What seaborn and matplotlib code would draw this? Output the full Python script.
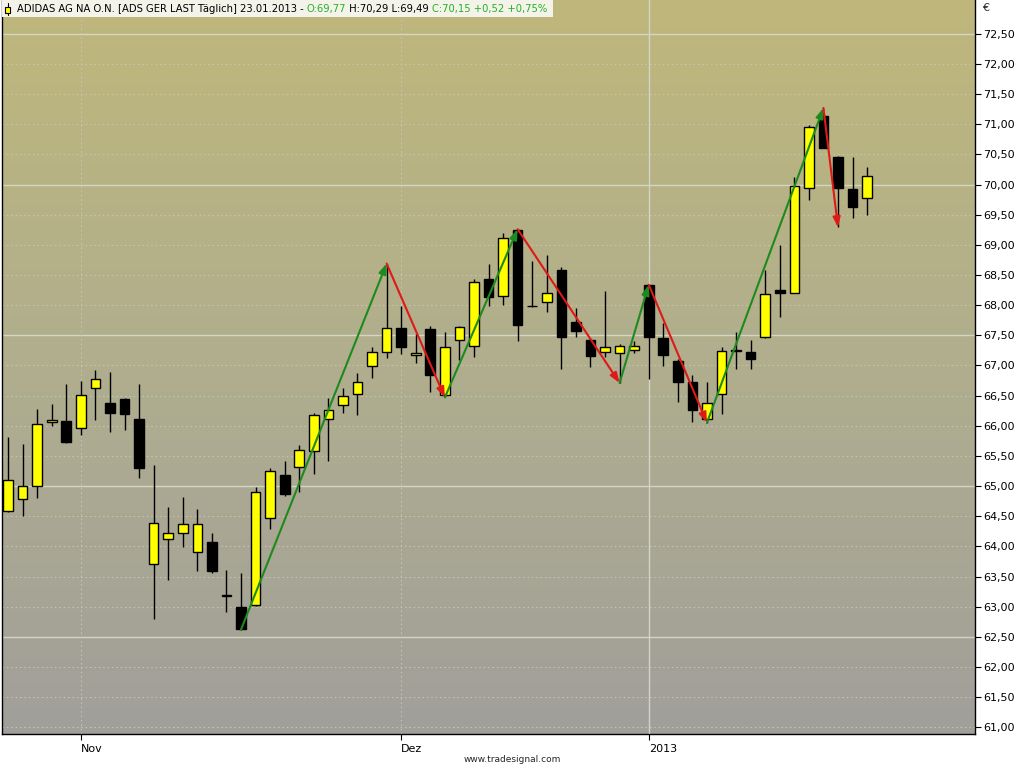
import matplotlib
matplotlib.use("Agg")
import matplotlib.pyplot as plt
import matplotlib.patches as mpatches
from matplotlib.lines import Line2D
from matplotlib.text import Annotation
from matplotlib.colors import LinearSegmentedColormap
import numpy as np
import pandas as pd
import seaborn as sns

# --- daily OHLC, ADIDAS AG (ADS GER LAST) ---
dates = [
    "2012-10-25", "2012-10-26", "2012-10-29", "2012-10-30", "2012-10-31",
    "2012-11-01", "2012-11-02", "2012-11-05", "2012-11-06", "2012-11-07",
    "2012-11-08", "2012-11-09", "2012-11-12", "2012-11-13", "2012-11-14",
    "2012-11-15", "2012-11-16", "2012-11-19", "2012-11-20", "2012-11-21",
    "2012-11-22", "2012-11-23", "2012-11-26", "2012-11-27", "2012-11-28",
    "2012-11-29", "2012-11-30", "2012-12-03", "2012-12-04", "2012-12-05",
    "2012-12-06", "2012-12-07", "2012-12-10", "2012-12-11", "2012-12-12",
    "2012-12-13", "2012-12-14", "2012-12-17", "2012-12-18", "2012-12-19",
    "2012-12-20", "2012-12-21", "2012-12-27", "2012-12-28", "2013-01-02",
    "2013-01-03", "2013-01-04", "2013-01-07", "2013-01-08", "2013-01-09",
    "2013-01-10", "2013-01-11", "2013-01-14", "2013-01-15", "2013-01-16",
    "2013-01-17", "2013-01-18", "2013-01-21", "2013-01-22", "2013-01-23",
]
opens = [64.59, 64.78, 65.00, 66.07, 66.08, 65.96, 66.62, 66.37, 66.44, 66.11,
         63.71, 64.12, 64.22, 63.91, 64.07, 63.17, 62.99, 63.03, 64.47, 65.18,
         65.31, 65.58, 66.11, 66.34, 66.52, 66.99, 67.22, 67.62, 67.17, 67.60,
         66.51, 67.42, 67.32, 68.44, 68.15, 69.24, 67.99, 68.05, 68.59, 67.72,
         67.42, 67.22, 67.20, 67.25, 68.33, 67.45, 67.07, 66.72, 66.11, 66.52,
         67.25, 67.22, 67.47, 68.25, 68.21, 69.95, 71.14, 70.46, 69.92, 69.77]
highs = [65.81, 65.70, 66.28, 66.36, 66.70, 66.75, 66.92, 66.90, 66.46, 66.69,
         65.35, 64.65, 64.82, 64.62, 64.22, 63.61, 63.56, 64.98, 65.30, 65.41,
         65.68, 66.21, 66.46, 66.62, 66.87, 67.30, 68.69, 67.98, 67.53, 67.65,
         67.55, 67.65, 68.43, 68.69, 69.19, 69.26, 68.73, 68.84, 68.63, 67.95,
         67.45, 68.24, 67.35, 67.40, 68.34, 67.70, 67.10, 66.85, 66.72, 67.30,
         67.55, 67.43, 68.58, 68.99, 70.12, 70.99, 71.27, 70.48, 70.45, 70.29]
lows = [64.57, 64.50, 64.80, 65.99, 65.72, 65.84, 66.09, 65.89, 65.93, 65.13,
        62.80, 63.44, 63.99, 63.60, 63.56, 62.91, 62.62, 63.02, 64.29, 64.83,
        64.90, 65.20, 65.41, 66.21, 66.18, 66.79, 67.12, 67.19, 67.04, 66.56,
        66.47, 67.09, 67.14, 67.98, 68.01, 67.40, 67.97, 67.88, 66.94, 67.48,
        66.97, 67.14, 66.71, 67.20, 66.77, 66.99, 66.39, 66.06, 66.05, 66.19,
        66.95, 66.95, 67.46, 67.80, 68.20, 69.75, 70.60, 69.29, 69.44, 69.49]
closes = [65.10, 65.00, 66.03, 66.10, 65.73, 66.51, 66.77, 66.21, 66.19, 65.30,
          64.39, 64.22, 64.37, 64.37, 63.59, 63.20, 62.63, 64.90, 65.25, 64.87,
          65.60, 66.18, 66.27, 66.49, 66.72, 67.22, 67.62, 67.30, 67.20, 66.84,
          67.30, 67.63, 68.38, 68.13, 69.12, 67.67, 67.98, 68.21, 67.48, 67.57,
          67.15, 67.30, 67.33, 67.33, 67.47, 67.17, 66.72, 66.27, 66.37, 67.24,
          67.24, 67.10, 68.18, 68.20, 69.97, 70.96, 70.61, 69.95, 69.63, 70.15]

# zigzag swing points: candle index and whether the high or the low is used
pivot_idx = [16, 26, 30, 35, 42, 44, 48, 56, 57]
pivot_kind = ["L", "H", "L", "H", "L", "H", "L", "H", "L"]

month_names = {1: "Jan", 2: "Feb", 3: "Mrz", 4: "Apr", 5: "Mai", 6: "Jun",
               7: "Jul", 8: "Aug", 9: "Sep", 10: "Okt", 11: "Nov", 12: "Dez"}

df = pd.DataFrame({"date": pd.to_datetime(dates), "open": opens, "high": highs,
                   "low": lows, "close": closes})
df["x"] = np.arange(len(df))
df["up"] = df["close"] >= df["open"]

UP = "#ffff00"
DOWN = "#000000"
GREEN = "#1d8a1d"
RED = "#e01818"
TXT_GREEN = "#27b027"

sns.set_style("white")
plt.rcParams["font.family"] = ["DejaVu Sans"]

W, H = 1024, 768
fig = plt.figure(figsize=(W / 100, H / 100), dpi=100)
fig.patch.set_facecolor("white")
ax = fig.add_axes([1.5 / W, 34 / H, 973.5 / W, 734 / H])

# pixel -> data mapping of the original chart
x_lo, x_hi = -0.45, 66.41
y_lo, y_hi = 60.89, 73.06
ax.set_xlim(x_lo, x_hi)
ax.set_ylim(y_lo, y_hi)

# background gradient khaki -> grey
cmap = LinearSegmentedColormap.from_list("bg", ["#bfb77b", "#b0ae8e", "#a19f9a"])
grad = np.linspace(0, 1, 256).reshape(-1, 1)
ax.imshow(grad, cmap=cmap, aspect="auto", origin="upper",
          extent=(x_lo, x_hi, y_lo, y_hi), zorder=0)

# horizontal grid
for v in np.arange(61.0, 72.51, 0.5):
    if abs(v / 2.5 - round(v / 2.5)) < 1e-6:
        ax.axhline(v, color="#d2d6c8", lw=1.0, zorder=1)
    else:
        ax.axhline(v, color="#c8c7b2", lw=0.7, ls=(0, (1.5, 3)), zorder=1)

# month ticks (first trading day of each new month)
month_start = df.index[df["date"].dt.month != df["date"].dt.month.shift()][1:]
tick_labels = []
for i in month_start:
    d = df.loc[i, "date"]
    if d.month == 1:
        tick_labels.append(str(d.year))
        ax.axvline(i, color="#d0d5c9", lw=1.0, zorder=1)
    else:
        tick_labels.append(month_names[d.month])
        ax.axvline(i, color="#cac8b5", lw=0.7, ls=(0, (1.5, 3)), zorder=1)

# candles
ax.vlines(df["x"], df["low"], df["high"], color="black", lw=1.0, zorder=2)
body_lo = df[["open", "close"]].min(axis=1)
body_h = (df["close"] - df["open"]).abs()
ax.bar(df["x"], body_h, bottom=body_lo, width=0.66,
       color=np.where(df["up"], UP, DOWN), edgecolor="black", lw=1.0, zorder=3)

# zigzag arrows
pts = [(i, df.loc[i, "high"] if k == "H" else df.loc[i, "low"])
       for i, k in zip(pivot_idx, pivot_kind)]
for (x0, y0), (x1, y1) in zip(pts[:-1], pts[1:]):
    ax.annotate("", xy=(x1, y1), xytext=(x0, y0), zorder=4,
                arrowprops=dict(arrowstyle="-|>,head_length=0.6,head_width=0.22",
                                color=GREEN if y1 > y0 else RED, lw=1.5,
                                shrinkA=0, shrinkB=0))

# axes, ticks
ax.yaxis.tick_right()
yt = np.arange(61.0, 72.51, 0.5)
ax.set_yticks(yt)
ax.set_yticklabels([f"{v:.2f}".replace(".", ",") for v in yt])
ax.tick_params(axis="y", direction="out", length=4, width=0.8, pad=2,
               labelsize=8, colors="black", right=True, left=False)
ax.set_xticks(month_start)
ax.set_xticklabels(tick_labels, ha="left")
ax.tick_params(axis="x", direction="out", length=4, width=0.8, pad=3,
               labelsize=8, colors="black", bottom=True)
ax.spines["top"].set_visible(False)
for s in ["left", "right", "bottom"]:
    ax.spines[s].set_color("black")
    ax.spines[s].set_linewidth(1.0)

fig.text(982 / W, 1 - 8 / H, "€", fontsize=8, va="center", ha="left")
fig.text(512 / W, 1 - 760 / H, "www.tradesignal.com", fontsize=6.5,
         va="center", ha="center")

# header line
header_box = mpatches.Rectangle((1.5 / W, 1 - 17 / H), 547 / W, 17 / H,
                                transform=fig.transFigure, facecolor="#f3f3ea",
                                edgecolor="none", zorder=5)
fig.add_artist(header_box)
fig.add_artist(Line2D([7.5 / W, 7.5 / W], [1 - 15 / H, 1 - 3 / H],
                      transform=fig.transFigure, color="black", lw=0.8, zorder=6))
fig.add_artist(mpatches.Rectangle((5 / W, 1 - 12.5 / H), 5 / W, 6 / H,
                                  transform=fig.transFigure, facecolor=UP,
                                  edgecolor="black", lw=0.8, zorder=7))

last = df.iloc[-1]
chg = last["close"] - df.iloc[-2]["close"]
pct = chg / df.iloc[-2]["close"] * 100


def de(v, sign=False):
    s = f"{v:+.2f}" if sign else f"{v:.2f}"
    return s.replace(".", ",")


segments = [
    ("ADIDAS AG NA O.N. [ADS GER LAST Täglich] "
     + last["date"].strftime("%d.%m.%Y") + " - ", "black"),
    (f"O:{de(last['open'])}", TXT_GREEN),
    (f" H:{de(last['high'])} L:{de(last['low'])} ", "black"),
    (f"C:{de(last['close'])} {de(chg, True)} {de(pct, True)}%", TXT_GREEN),
]
t = fig.text(17 / W, 1 - 9 / H, segments[0][0], color=segments[0][1],
             fontsize=7.2, va="center", ha="left", zorder=8)
for seg, col in segments[1:]:
    t = fig.add_artist(Annotation(seg, xy=(1, 0), xycoords=t, va="bottom",
                                  ha="left", color=col, fontsize=7.2,
                                  annotation_clip=False, zorder=8))

# stretch the header box to just past the end of the text
fig.canvas.draw()
x_end = t.get_window_extent().x1
header_box.set_width((x_end + 5 - 1.5) / W)

fig.savefig("out.png", dpi=100)
